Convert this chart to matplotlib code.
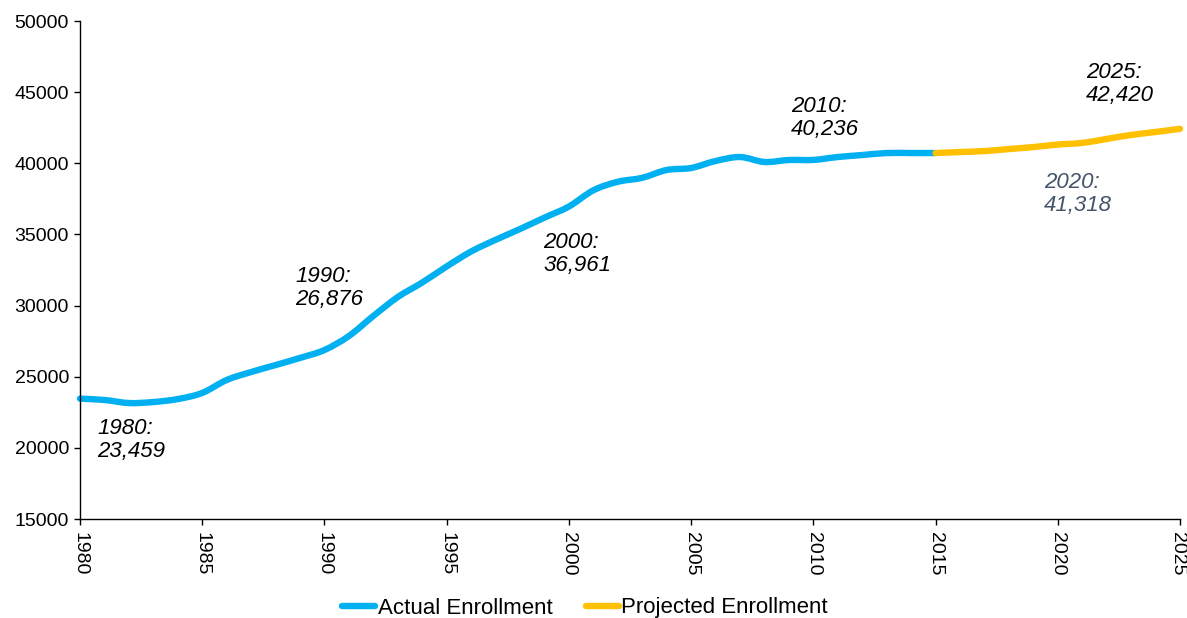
import matplotlib
matplotlib.use("Agg")
import matplotlib.pyplot as plt
import matplotlib.transforms as mtransforms
from matplotlib.path import Path
from matplotlib.patches import PathPatch
from matplotlib.lines import Line2D

plt.rcParams['font.family'] = ['Liberation Sans', 'DejaVu Sans']

actual_years = list(range(1980, 2016))
actual_values = [23459, 23364, 23150, 23220, 23430, 23860, 24770, 25330, 25820, 26320,
                 26876, 27860, 29270, 30600, 31620, 32750, 33800, 34620, 35380, 36180,
                 36961, 38100, 38700, 38980, 39530, 39670, 40160, 40440, 40090, 40230,
                 40236, 40440, 40580, 40720, 40720, 40720]
projected_years = list(range(2015, 2026))
projected_values = [40720, 40790, 40860, 41000, 41140, 41318, 41430, 41710, 41990, 42200, 42420]

label_years = [1980, 1990, 2000, 2010, 2020, 2025]
label_values = [23459, 26876, 36961, 40236, 41318, 42420]
# text anchor positions (year, value) for the callouts
label_pos = [(1980.7, 22100), (1988.8, 32780), (1998.95, 35170), (2009.1, 44730),
             (2019.45, 39390), (2021.15, 47120)]
label_colors = ['black', 'black', 'black', 'black', '#44546A', 'black']

blue = '#00B0F0'
gold = '#FFC000'
LW = 4.6


def smooth_path(xs, ys):
    """Excel-style smoothed line: cubic Bezier segments through every data point."""
    n = len(xs)
    verts = [(xs[0], ys[0])]
    codes = [Path.MOVETO]
    for i in range(n - 1):
        x0, y0 = (xs[i - 1], ys[i - 1]) if i > 0 else (xs[i], ys[i])
        x1, y1 = xs[i], ys[i]
        x2, y2 = xs[i + 1], ys[i + 1]
        x3, y3 = (xs[i + 2], ys[i + 2]) if i + 2 < n else (x2, y2)
        c1 = (x1 + (x2 - x0) / 6, y1 + (y2 - y0) / 6)
        c2 = (x2 - (x3 - x1) / 6, y2 - (y3 - y1) / 6)
        verts += [c1, c2, (x2, y2)]
        codes += [Path.CURVE4] * 3
    return Path(verts, codes)


fig = plt.figure(figsize=(11.87, 6.18), dpi=100)
ax = fig.add_axes([80/1187, 1-519/618, 1100/1187, 498/618])

for xs, ys, c in [(actual_years, actual_values, blue), (projected_years, projected_values, gold)]:
    patch = PathPatch(smooth_path(xs, ys), facecolor='none', edgecolor=c, lw=LW,
                      capstyle='round', joinstyle='round', clip_on=False)
    ax.add_patch(patch)

ax.set_xlim(1980, 2025)
ax.set_ylim(15000, 50000)
ax.set_xticks(range(1980, 2026, 5))
ax.set_yticks(range(15000, 50001, 5000))
ax.set_xticklabels([str(y) for y in range(1980, 2026, 5)], rotation=-90)
ax.set_yticklabels([str(v) for v in range(15000, 50001, 5000)])
ax.tick_params(axis='both', labelsize=14, length=4, width=1, colors='black', pad=4)
ax.tick_params(axis='x', pad=5)
for s in ['top', 'right']:
    ax.spines[s].set_visible(False)
for s in ['left', 'bottom']:
    ax.spines[s].set_linewidth(1)
    ax.spines[s].set_color('black')

# nudge the last x tick label so it stays inside the canvas
last = ax.get_xticklabels()[-1]
last.set_transform(last.get_transform() +
                   mtransforms.ScaledTranslation(-3/100, 0, fig.dpi_scale_trans))

for yr, val, (px, py), c in zip(label_years, label_values, label_pos, label_colors):
    ax.text(px, py, f"{yr}:\n{val:,}", ha='left', va='top', fontsize=16,
            fontstyle='italic', color=c, linespacing=1.15)

handles = [Line2D([], [], color=blue, lw=LW, solid_capstyle='round'),
           Line2D([], [], color=gold, lw=LW, solid_capstyle='round')]
fig.legend(handles, ['Actual Enrollment', 'Projected Enrollment'], loc='center',
           bbox_to_anchor=(585/1187, 1-608/618), ncol=2, frameon=False,
           fontsize=16, handlelength=1.5, handletextpad=0.1, columnspacing=1.5)

fig.savefig('out.png', dpi=100)
